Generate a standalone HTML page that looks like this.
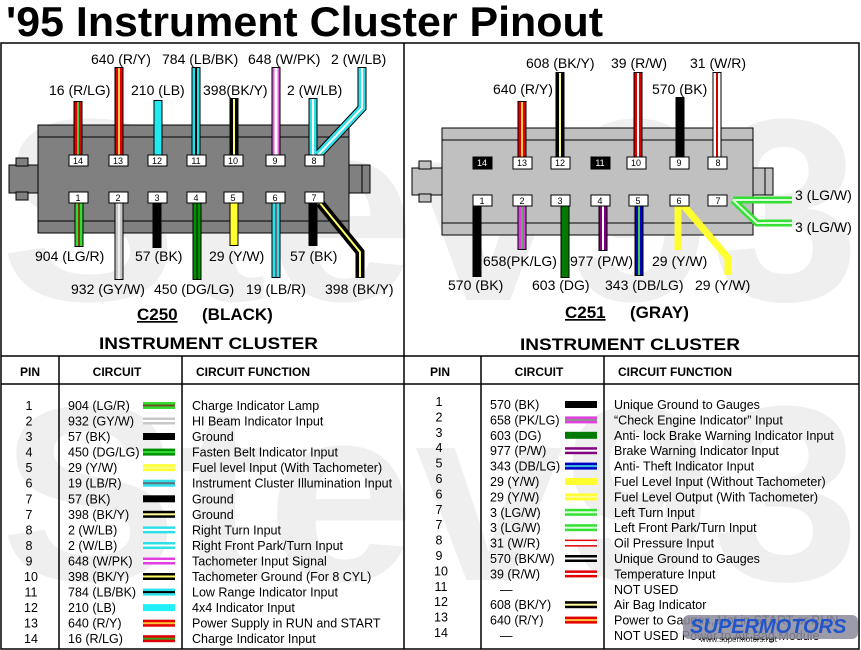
<!DOCTYPE html>
<html><head><meta charset="utf-8"><style>
html,body{margin:0;padding:0;background:#fff;width:861px;height:650px;overflow:hidden}
svg{display:block}
text{font-family:"Liberation Sans",sans-serif}
.l{font-size:14px}
.t{font-size:12.5px}
.h{font-size:12px;font-weight:bold}
.b{font-size:17px;font-weight:bold}
</style></head><body>
<svg width="861" height="650" viewBox="0 0 861 650" xmlns="http://www.w3.org/2000/svg">
<rect width="861" height="650" fill="#fff"/>
<g fill="#efefef" font-weight="bold" font-family="Liberation Sans,sans-serif">
<text x="0" y="300" font-size="260" textLength="860" lengthAdjust="spacingAndGlyphs">Stev93</text>
<text x="0" y="580" font-size="250" textLength="860" lengthAdjust="spacingAndGlyphs">Stev93</text>
</g>
<text x="6" y="36" font-size="42" font-weight="bold" textLength="597" lengthAdjust="spacingAndGlyphs">'95 Instrument Cluster Pinout</text>
<g stroke="#000" stroke-width="1.5" fill="none">
<rect x="1" y="43" width="858" height="606"/>
<line x1="404" y1="43" x2="404" y2="649"/>
<line x1="1" y1="356" x2="859" y2="356"/>
<line x1="1" y1="384" x2="859" y2="384"/>
<line x1="59" y1="356" x2="59" y2="649"/>
<line x1="182" y1="356" x2="182" y2="649"/>
<line x1="481" y1="356" x2="481" y2="649"/>
<line x1="604" y1="356" x2="604" y2="649"/>
</g>

<g stroke="#000" stroke-width="1">
<rect x="9" y="165" width="34" height="28" fill="#808080"/>
<rect x="16" y="158" width="12" height="8" fill="#808080"/>
<rect x="16" y="192" width="12" height="8" fill="#808080"/>
<rect x="343" y="165" width="27" height="28" fill="#808080"/>
<line x1="362" y1="165" x2="362" y2="193"/>
<rect x="38" y="125" width="311" height="108" fill="#808080"/>
<line x1="38" y1="137" x2="349" y2="137"/>
<line x1="38" y1="221" x2="349" y2="221"/>
</g>
<g stroke-linecap="butt" fill="none">
<g stroke="#000" stroke-width="9">
<path d="M78 101V155M119 67V155M158 100V155M196 67V155M234 98V155M276 67V155M313 98V155M318 155L362 108V67"/>
<path d="M79 203V247M119 203V280M157 203V248M197 203V280M234 203V246M276 203V278M313 203V246M320 203L360 252V278"/>
</g>
<path d="M78 102V155" stroke="#e00000" stroke-width="7"/><path d="M78 102V155" stroke="#4c4" stroke-width="2"/>
<path d="M119 68V155" stroke="#e00000" stroke-width="7"/><path d="M119 68V155" stroke="#ffd040" stroke-width="2"/>
<path d="M158 101V155" stroke="#22e8f0" stroke-width="7"/>
<path d="M196 68V155" stroke="#22e0e8" stroke-width="7"/><path d="M196 68V155" stroke="#000" stroke-width="2"/>
<path d="M234 99V155" stroke="#000" stroke-width="7"/><path d="M234 99V155" stroke="#ff6" stroke-width="2"/>
<path d="M276 68V155" stroke="#e060e0" stroke-width="7"/><path d="M276 68V155" stroke="#fff" stroke-width="3"/>
<path d="M313 99V155M318 155L362 108V68" stroke="#30e0e8" stroke-width="7"/><path d="M313 99V155M318 155L362 108V68" stroke="#fff" stroke-width="2"/>
<path d="M79 203V246" stroke="#33dd33" stroke-width="7"/><path d="M79 203V246" stroke="#804000" stroke-width="2"/>
<path d="M119 203V279" stroke="#c8c8c8" stroke-width="7"/><path d="M119 203V279" stroke="#eee" stroke-width="2"/>
<path d="M157 203V247" stroke="#000" stroke-width="7"/>
<path d="M197 203V279" stroke="#009000" stroke-width="7"/><path d="M197 203V279" stroke="#005000" stroke-width="2"/>
<path d="M234 203V245" stroke="#ffff30" stroke-width="7"/>
<path d="M276 203V277" stroke="#30e0e8" stroke-width="7"/><path d="M276 203V277" stroke="#607080" stroke-width="2"/>
<path d="M313 203V245" stroke="#000" stroke-width="7"/>
<path d="M320 203L360 252V277" stroke="#000" stroke-width="7"/><path d="M320 203L360 252V277" stroke="#ff6" stroke-width="2"/>
</g>
<g fill="#fff" stroke="#000" stroke-width="1">
<rect x="69" y="155" width="19" height="11"/><rect x="109" y="155" width="19" height="11"/><rect x="148" y="155" width="19" height="11"/><rect x="187" y="155" width="19" height="11"/><rect x="224" y="155" width="19" height="11"/><rect x="266" y="155" width="19" height="11"/><rect x="305" y="155" width="19" height="11"/>
<rect x="69" y="192" width="19" height="11"/><rect x="109" y="192" width="19" height="11"/><rect x="148" y="192" width="19" height="11"/><rect x="187" y="192" width="19" height="11"/><rect x="224" y="192" width="19" height="11"/><rect x="266" y="192" width="19" height="11"/><rect x="305" y="192" width="19" height="11"/>
</g>
<g font-size="9" text-anchor="middle">
<text x="78" y="164">14</text><text x="118" y="164">13</text><text x="157" y="164">12</text><text x="196" y="164">11</text><text x="233" y="164">10</text><text x="275" y="164">9</text><text x="314" y="164">8</text>
<text x="78" y="201">1</text><text x="118" y="201">2</text><text x="157" y="201">3</text><text x="196" y="201">4</text><text x="233" y="201">5</text><text x="275" y="201">6</text><text x="314" y="201">7</text>
</g>
<g class="l">
<text x="91" y="64">640 (R/Y)</text><text x="162" y="64">784 (LB/BK)</text><text x="248" y="64">648 (W/PK)</text><text x="331" y="64">2 (W/LB)</text>
<text x="49" y="95">16 (R/LG)</text><text x="131" y="95">210 (LB)</text><text x="203" y="95">398(BK/Y)</text><text x="287" y="95">2 (W/LB)</text>
<text x="35" y="261">904 (LG/R)</text><text x="135" y="261">57 (BK)</text><text x="209" y="261">29 (Y/W)</text><text x="290" y="261">57 (BK)</text>
<text x="71" y="294">932 (GY/W)</text><text x="154" y="294">450 (DG/LG)</text><text x="246" y="294">19 (LB/R)</text><text x="325" y="294">398 (BK/Y)</text>
</g>
<text class="b" x="137" y="320" text-decoration="underline">C250</text><text class="b" x="202" y="320">(BLACK)</text>
<text class="b" x="99" y="349" textLength="219" lengthAdjust="spacingAndGlyphs">INSTRUMENT CLUSTER</text>

<g stroke="#000" stroke-width="1">
<rect x="412" y="168" width="35" height="27" fill="#c0c0c0"/>
<rect x="419" y="161" width="12" height="8" fill="#c0c0c0"/>
<rect x="419" y="194" width="12" height="8" fill="#c0c0c0"/>
<rect x="747" y="168" width="26" height="27" fill="#c0c0c0"/>
<line x1="765" y1="168" x2="765" y2="195"/>
<rect x="442" y="128" width="311" height="107" fill="#c0c0c0"/>
<line x1="442" y1="140" x2="753" y2="140"/>
<line x1="442" y1="223" x2="753" y2="223"/>
</g>
<g fill="none">
<g stroke="#000" stroke-width="9">
<path d="M522 101V157M560 72V157M638 72V157M680 97V157M717 72V157"/>
<path d="M477 206V277M522 206V250M565 206V278M603 206V251M639 206V276"/>
</g>
<path d="M522 102V157" stroke="#e00000" stroke-width="7"/><path d="M522 102V157" stroke="#ffd040" stroke-width="2"/>
<path d="M560 73V157" stroke="#000" stroke-width="7"/><path d="M560 73V157" stroke="#ff9" stroke-width="2"/>
<path d="M638 73V157" stroke="#e00000" stroke-width="7"/><path d="M638 73V157" stroke="#fff" stroke-width="2"/>
<path d="M717 73V157" stroke="#fff" stroke-width="7"/><path d="M717 73V157" stroke="#c00" stroke-width="2"/>
<path d="M522 206V249" stroke="#e040e0" stroke-width="7"/><path d="M522 206V249" stroke="#6a6" stroke-width="2"/>
<path d="M565 206V277" stroke="#007a00" stroke-width="7"/>
<path d="M603 206V250" stroke="#800080" stroke-width="7"/><path d="M603 206V250" stroke="#fff" stroke-width="2"/>
<path d="M639 206V275" stroke="#0000c0" stroke-width="7"/><path d="M639 206V275" stroke="#4c4" stroke-width="2"/>
<path d="M678 206V250M684 206L728 258V275" stroke="#ffff30" stroke-width="7"/>
<path d="M733 200H792M733 200L757 223H792" stroke="#33e033" stroke-width="7"/>
<path d="M733 200H792M733 200L757 223H792" stroke="#dfd" stroke-width="2"/>
</g>
<g fill="#fff" stroke="#000" stroke-width="1">
<rect x="473" y="157" width="19" height="12" fill="#000"/><rect x="513" y="157" width="19" height="12"/><rect x="551" y="157" width="19" height="12"/><rect x="591" y="157" width="19" height="12" fill="#000"/><rect x="627" y="157" width="19" height="12"/><rect x="670" y="157" width="19" height="12"/><rect x="708" y="157" width="19" height="12"/>
<rect x="473" y="195" width="19" height="11"/><rect x="513" y="195" width="19" height="11"/><rect x="551" y="195" width="19" height="11"/><rect x="591" y="195" width="19" height="11"/><rect x="629" y="195" width="19" height="11"/><rect x="670" y="195" width="19" height="11"/><rect x="708" y="195" width="19" height="11"/>
</g>
<g font-size="9" text-anchor="middle">
<text x="482" y="166" fill="#fff">14</text><text x="522" y="166">13</text><text x="560" y="166">12</text><text x="600" y="166" fill="#fff">11</text><text x="636" y="166">10</text><text x="679" y="166">9</text><text x="718" y="166">8</text>
<text x="482" y="204">1</text><text x="522" y="204">2</text><text x="560" y="204">3</text><text x="600" y="204">4</text><text x="638" y="204">5</text><text x="679" y="204">6</text><text x="718" y="204">7</text>
</g>
<g class="l">
<text x="526" y="68">608 (BK/Y)</text><text x="611" y="68">39 (R/W)</text><text x="690" y="68">31 (W/R)</text>
<text x="493" y="94">640 (R/Y)</text><text x="652" y="94">570 (BK)</text>
<text x="795" y="200">3 (LG/W)</text><text x="795" y="232">3 (LG/W)</text>
<text x="483" y="266">658(PK/LG)</text><text x="570" y="266">977 (P/W)</text><text x="652" y="266">29 (Y/W)</text>
<text x="448" y="290">570 (BK)</text><text x="532" y="290">603 (DG)</text><text x="605" y="290">343 (DB/LG)</text><text x="695" y="290">29 (Y/W)</text>
</g>
<text class="b" x="565" y="318" text-decoration="underline">C251</text><text class="b" x="630" y="318">(GRAY)</text>
<text class="b" x="520" y="350" textLength="220" lengthAdjust="spacingAndGlyphs">INSTRUMENT CLUSTER</text>

<g class="h">
<text x="30" y="376" text-anchor="middle">PIN</text><text x="117" y="376" text-anchor="middle">CIRCUIT</text><text x="196" y="376">CIRCUIT FUNCTION</text>
<text x="440" y="376" text-anchor="middle">PIN</text><text x="539" y="376" text-anchor="middle">CIRCUIT</text><text x="618" y="376">CIRCUIT FUNCTION</text>
</g>
<g class="t">
<g text-anchor="middle">
<text x="29" y="410">1</text><text x="29" y="425.5">2</text><text x="29" y="441">3</text><text x="29" y="456.6">4</text><text x="29" y="472.2">5</text><text x="29" y="487.7">6</text><text x="29" y="503.3">7</text><text x="29" y="518.8">7</text><text x="29" y="534.4">8</text><text x="29" y="550">8</text><text x="29" y="565.5">9</text><text x="31" y="581">10</text><text x="31" y="596.6">11</text><text x="31" y="612.1">12</text><text x="31" y="627.7">13</text><text x="31" y="643.2">14</text>
</g>
<text x="68" y="410">904 (LG/R)</text><text x="68" y="425.5">932 (GY/W)</text><text x="68" y="441">57 (BK)</text><text x="68" y="456.6">450 (DG/LG)</text><text x="68" y="472.2">29 (Y/W)</text><text x="68" y="487.7">19 (LB/R)</text><text x="68" y="503.3">57 (BK)</text><text x="68" y="518.8">398 (BK/Y)</text><text x="68" y="534.4">2 (W/LB)</text><text x="68" y="550">2 (W/LB)</text><text x="68" y="565.5">648 (W/PK)</text><text x="68" y="581">398 (BK/Y)</text><text x="68" y="596.6">784 (LB/BK)</text><text x="68" y="612.1">210 (LB)</text><text x="68" y="627.7">640 (R/Y)</text><text x="68" y="643.2">16 (R/LG)</text>
<text x="192" y="410">Charge Indicator Lamp</text><text x="192" y="425.5">HI Beam Indicator Input</text><text x="192" y="441">Ground</text><text x="192" y="456.6">Fasten Belt Indicator Input</text><text x="192" y="472.2">Fuel level Input (With Tachometer)</text><text x="192" y="487.7">Instrument Cluster Illumination Input</text><text x="192" y="503.3">Ground</text><text x="192" y="518.8">Ground</text><text x="192" y="534.4">Right Turn Input</text><text x="192" y="550">Right Front Park/Turn Input</text><text x="192" y="565.5">Tachometer Input Signal</text><text x="192" y="581">Tachometer Ground (For 8 CYL)</text><text x="192" y="596.6">Low Range Indicator Input</text><text x="192" y="612.1">4x4 Indicator Input</text><text x="192" y="627.7">Power Supply in RUN and START</text><text x="192" y="643.2">Charge Indicator Input</text>
</g>
<g>
<rect x="143" y="402" width="32" height="7" fill="#33dd33"/><rect x="143" y="404.5" width="32" height="2" fill="#705020"/>
<rect x="143" y="417.5" width="32" height="7" fill="#c8c8c8"/><rect x="143" y="420" width="32" height="2" fill="#fff"/>
<rect x="143" y="433" width="32" height="7" fill="#000"/>
<rect x="143" y="448.6" width="32" height="7" fill="#009000"/><rect x="143" y="451.1" width="32" height="2" fill="#33dd33"/>
<rect x="143" y="464.2" width="32" height="7" fill="#ffff30"/><rect x="143" y="466.7" width="32" height="2" fill="#ffff90"/>
<rect x="143" y="479.7" width="32" height="7" fill="#30e0e8"/><rect x="143" y="482.2" width="32" height="2" fill="#607080"/>
<rect x="143" y="495.3" width="32" height="7" fill="#000"/>
<rect x="143" y="510.8" width="32" height="7" fill="#000"/><rect x="143" y="513.3" width="32" height="2" fill="#ff9"/>
<rect x="143" y="526.4" width="32" height="7" fill="#30e0e8"/><rect x="143" y="528.9" width="32" height="2" fill="#fff"/>
<rect x="143" y="542" width="32" height="7" fill="#30e0e8"/><rect x="143" y="544.5" width="32" height="2" fill="#fff"/>
<rect x="143" y="557.5" width="32" height="7" fill="#e040e0"/><rect x="143" y="560" width="32" height="2" fill="#fff"/>
<rect x="143" y="573" width="32" height="7" fill="#000"/><rect x="143" y="575.5" width="32" height="2" fill="#ff6"/>
<rect x="143" y="588.6" width="32" height="7" fill="#30e0e8"/><rect x="143" y="591.1" width="32" height="2" fill="#000"/>
<rect x="143" y="604.1" width="32" height="7" fill="#22f0f8"/>
<rect x="143" y="619.7" width="32" height="7" fill="#e00000"/><rect x="143" y="622.2" width="32" height="2" fill="#ffc040"/>
<rect x="143" y="635.2" width="32" height="7" fill="#e00000"/><rect x="143" y="637.7" width="32" height="2" fill="#40a020"/>
</g>
<g class="t">
<g text-anchor="middle">
<text x="439" y="406">1</text><text x="439" y="421.4">2</text><text x="439" y="436.8">3</text><text x="439" y="452.2">4</text><text x="439" y="467.6">5</text><text x="439" y="483">6</text><text x="439" y="498.4">6</text><text x="439" y="513.8">7</text><text x="439" y="529.2">7</text><text x="439" y="544.6">8</text><text x="439" y="560">9</text><text x="441" y="575.4">10</text><text x="441" y="590.8">11</text><text x="441" y="606.2">12</text><text x="441" y="621.6">13</text><text x="441" y="637">14</text>
</g>
<text x="490" y="409">570 (BK)</text><text x="490" y="424.4">658 (PK/LG)</text><text x="490" y="439.8">603 (DG)</text><text x="490" y="455.2">977 (P/W)</text><text x="490" y="470.6">343 (DB/LG)</text><text x="490" y="486">29 (Y/W)</text><text x="490" y="501.4">29 (Y/W)</text><text x="490" y="516.8">3 (LG/W)</text><text x="490" y="532.2">3 (LG/W)</text><text x="490" y="547.6">31 (W/R)</text><text x="490" y="563">570 (BK/W)</text><text x="490" y="578.4">39 (R/W)</text><text x="500" y="593.8">—</text><text x="490" y="609.2">608 (BK/Y)</text><text x="490" y="624.6">640 (R/Y)</text><text x="500" y="640">—</text>
<text x="614" y="409">Unique Ground to Gauges</text><text x="614" y="424.4">“Check Engine Indicator” Input</text><text x="614" y="439.8">Anti- lock Brake Warning Indicator Input</text><text x="614" y="455.2">Brake Warning Indicator Input</text><text x="614" y="470.6">Anti- Theft Indicator Input</text><text x="614" y="486">Fuel Level Input (Without Tachometer)</text><text x="614" y="501.4">Fuel Level Output (With Tachometer)</text><text x="614" y="516.8">Left Turn Input</text><text x="614" y="532.2">Left Front Park/Turn Input</text><text x="614" y="547.6">Oil Pressure Input</text><text x="614" y="563">Unique Ground to Gauges</text><text x="614" y="578.4">Temperature Input</text><text x="614" y="593.8">NOT USED</text><text x="614" y="609.2">Air Bag Indicator</text><text x="614" y="624.6">Power to Gauges, Hot in START or RUN</text><text x="614" y="640">NOT USED Power to Air Bag Module</text>
</g>
<g>
<rect x="565" y="401" width="32" height="7" fill="#000"/>
<rect x="565" y="416.4" width="32" height="7" fill="#e040e0"/><rect x="565" y="418.9" width="32" height="2" fill="#909090"/>
<rect x="565" y="431.8" width="32" height="7" fill="#007a00"/>
<rect x="565" y="447.2" width="32" height="7" fill="#800080"/><rect x="565" y="449.7" width="32" height="2" fill="#fff"/>
<rect x="565" y="462.6" width="32" height="7" fill="#0000c0"/><rect x="565" y="465.1" width="32" height="2" fill="#40c0e0"/>
<rect x="565" y="478" width="32" height="7" fill="#ffff30"/>
<rect x="565" y="493.4" width="32" height="7" fill="#ffff30"/><rect x="565" y="495.9" width="32" height="2" fill="#ffff90"/>
<rect x="565" y="508.8" width="32" height="7" fill="#33e033"/><rect x="565" y="511.3" width="32" height="2" fill="#dfd"/>
<rect x="565" y="524.2" width="32" height="7" fill="#33e033"/><rect x="565" y="526.7" width="32" height="2" fill="#dfd"/>
<rect x="565" y="539.6" width="32" height="7" fill="#e00000"/><rect x="565" y="541.1" width="32" height="4" fill="#fff"/>
<rect x="565" y="555" width="32" height="7" fill="#000"/><rect x="565" y="557.5" width="32" height="2" fill="#fff"/>
<rect x="565" y="570.4" width="32" height="7" fill="#e00000"/><rect x="565" y="572.9" width="32" height="2" fill="#fff"/>
<rect x="565" y="601.2" width="32" height="7" fill="#000"/><rect x="565" y="603.7" width="32" height="2" fill="#ff9"/>
<rect x="565" y="616.6" width="32" height="7" fill="#e00000"/><rect x="565" y="619.1" width="32" height="2" fill="#ffc040"/>
</g>
<rect x="683" y="615" width="175" height="24" rx="6" fill="#8a8a9a" opacity="0.85"/>
<text x="690" y="633" font-size="20" font-weight="bold" font-style="italic" fill="#2255cc">SUPERMOTORS</text>
<text x="700" y="642" font-size="8" fill="#333">www.supermotors.net</text>
</svg>
</body></html>
